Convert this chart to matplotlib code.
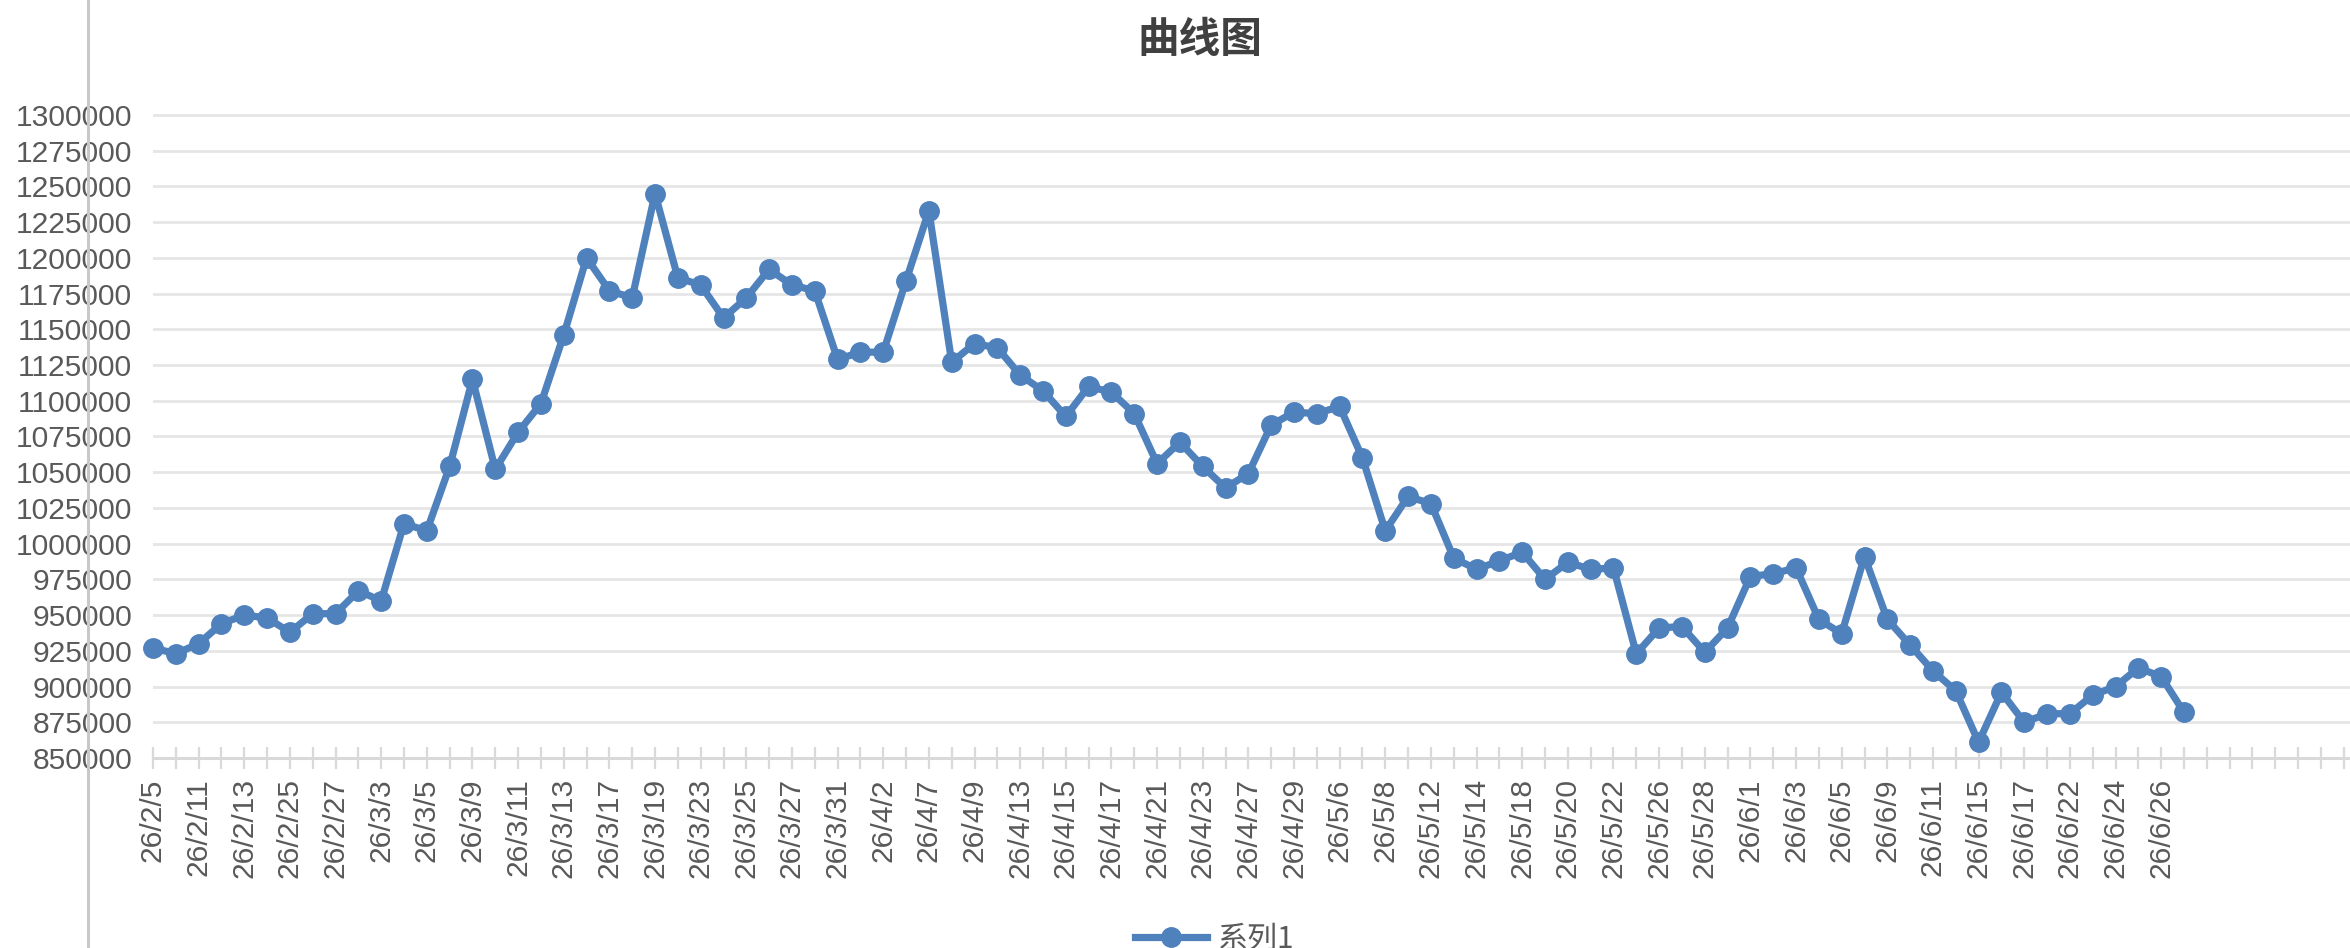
import matplotlib
matplotlib.use("Agg")
import matplotlib.pyplot as plt
from matplotlib.lines import Line2D

# category dates (only every other one is labelled on the axis)
dates = [
    "26/2/5", "26/2/10", "26/2/11", "26/2/12", "26/2/13", "26/2/24", "26/2/25", "26/2/26",
    "26/2/27", "26/3/2", "26/3/3", "26/3/4", "26/3/5", "26/3/6", "26/3/9", "26/3/10",
    "26/3/11", "26/3/12", "26/3/13", "26/3/16", "26/3/17", "26/3/18", "26/3/19", "26/3/20",
    "26/3/23", "26/3/24", "26/3/25", "26/3/26", "26/3/27", "26/3/30", "26/3/31", "26/4/1",
    "26/4/2", "26/4/3", "26/4/7", "26/4/8", "26/4/9", "26/4/10", "26/4/13", "26/4/14",
    "26/4/15", "26/4/16", "26/4/17", "26/4/20", "26/4/21", "26/4/22", "26/4/23", "26/4/24",
    "26/4/27", "26/4/28", "26/4/29", "26/4/30", "26/5/6", "26/5/7", "26/5/8", "26/5/11",
    "26/5/12", "26/5/13", "26/5/14", "26/5/15", "26/5/18", "26/5/19", "26/5/20", "26/5/21",
    "26/5/22", "26/5/25", "26/5/26", "26/5/27", "26/5/28", "26/5/29", "26/6/1", "26/6/2",
    "26/6/3", "26/6/4", "26/6/5", "26/6/8", "26/6/9", "26/6/10", "26/6/11", "26/6/12",
    "26/6/15", "26/6/16", "26/6/17", "26/6/18", "26/6/22", "26/6/23", "26/6/24", "26/6/25",
    "26/6/26", "26/6/29",
]

series1 = [
    927000, 923000, 930000, 944000, 950000, 948000, 938000, 951000,
    951000, 967000, 960000, 1014000, 1009000, 1054000, 1115000, 1052000,
    1078000, 1098000, 1146000, 1200000, 1177000, 1172000, 1245000, 1186000,
    1181000, 1158000, 1172000, 1192000, 1181000, 1177000, 1129000, 1134000,
    1134000, 1184000, 1233000, 1127000, 1140000, 1137000, 1118000, 1107000,
    1089000, 1110000, 1106000, 1091000, 1056000, 1071000, 1054000, 1039000,
    1049000, 1083000, 1092000, 1091000, 1096000, 1060000, 1009000, 1033000,
    1028000, 990000, 982000, 988000, 994000, 975000, 987000, 982000,
    983000, 923000, 941000, 942000, 924000, 941000, 977000, 979000,
    983000, 947000, 937000, 991000, 947000, 929000, 911000, 897000,
    861000, 896000, 875000, 881000, 881000, 894000, 900000, 913000,
    907000, 882000,
]

n_slots = 97          # the category axis keeps going past the last point
y_ticks = list(range(850000, 1300001, 25000))

blue = "#4f81bd"
grey_txt = "#595959"
grey_line = "#d9d9d9"

W, H = 2350, 948
fig = plt.figure(figsize=(W / 100, H / 100), dpi=100)

# axes placed in pixels: x index 0 at 153px, 22.82px per slot; 850000 at 758px
step = 22.82
x0 = 153
y_bot = 758
y_top = 112.1
ax = fig.add_axes([x0 / W, 1 - y_bot / H, 1 - x0 / W, (y_bot - y_top) / H])

xs = list(range(len(series1)))
ax.plot(xs, series1, color=blue, lw=5.2, marker="o", ms=14,
        label="系列1", clip_on=False, zorder=3)

ax.set_xlim(0, (W - x0) / step)
ax.set_ylim(850000, 1302000)

ax.set_yticks(y_ticks)
ax.set_yticklabels([str(v) for v in y_ticks])

ax.set_xticks(range(n_slots))
ax.set_xticklabels([dates[i] if (i < len(dates) and i % 2 == 0) else ""
                    for i in range(n_slots)])

for lab in ax.get_xticklabels() + ax.get_yticklabels():
    lab.set_family("Liberation Sans")

ax.tick_params(axis="x", direction="inout", length=16, width=1.6,
               color=grey_line, pad=6.5, labelsize=21.6,
               labelcolor=grey_txt, labelrotation=90)
ax.tick_params(axis="y", length=0, pad=15, labelsize=21.6,
               labelcolor=grey_txt)

ax.yaxis.grid(True, color="#e6e6e6", lw=2.0)
ax.set_axisbelow(True)

for s in ["left", "top", "right"]:
    ax.spines[s].set_visible(False)
ax.spines["bottom"].set_color(grey_line)
ax.spines["bottom"].set_linewidth(2.2)

fig.text(1200 / W, 1 - 40 / H, "曲线图", ha="center", va="center",
         fontsize=30, fontweight="bold", color="#404040",
         family=["Noto Sans CJK SC", "DejaVu Sans"])

leg = fig.legend(loc="center", bbox_to_anchor=(1215 / W, 1 - 939 / H),
                 frameon=False, handlelength=2.4, handletextpad=0.35,
                 prop={"family": ["Noto Sans CJK SC", "DejaVu Sans"], "size": 21.6})
for t in leg.get_texts():
    t.set_color(grey_txt)

# thin grey window border running through the y labels
fig.add_artist(Line2D([88 / W, 88 / W], [0, 1], transform=fig.transFigure,
                      color="#c8c8c8", lw=2.2, zorder=10))

fig.savefig("out.png", dpi=100)
